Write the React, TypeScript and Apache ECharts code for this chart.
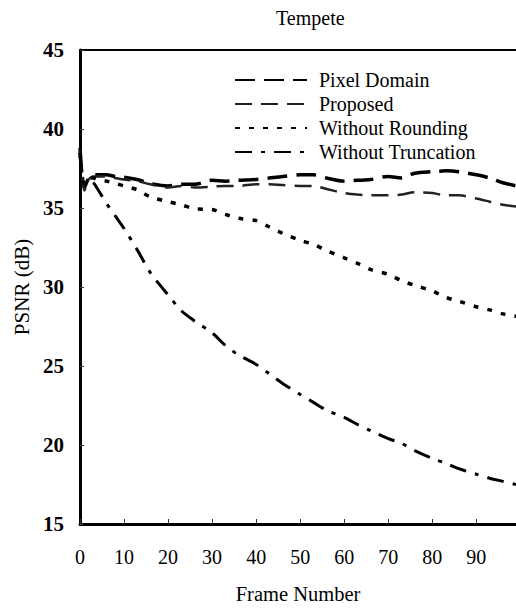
import React, { useEffect, useRef } from "react";
import * as echarts from "echarts";

const frames = [0, 1, 2, 3, 4, 6, 8, 10, 13, 16, 20, 23, 26, 30, 33, 36, 40, 43, 46, 50, 53, 56, 60, 63, 66, 70, 73, 76, 80, 83, 86, 90, 93, 96, 99];

const pixelDomain = [38.8, 36.3, 36.9, 37.1, 37.1, 37.1, 37.0, 36.95, 36.8, 36.55, 36.4, 36.5, 36.5, 36.75, 36.7, 36.75, 36.8, 36.9, 37.0, 37.1, 37.1, 36.9, 36.7, 36.75, 36.8, 37.0, 36.9, 37.2, 37.3, 37.35, 37.3, 37.1, 36.9, 36.6, 36.4];

const proposed = [38.6, 36.1, 36.8, 37.0, 37.0, 37.0, 36.9, 36.8, 36.7, 36.5, 36.3, 36.4, 36.3, 36.35, 36.4, 36.4, 36.5, 36.5, 36.45, 36.4, 36.4, 36.2, 35.95, 35.85, 35.8, 35.8, 35.85, 36.0, 35.95, 35.8, 35.8, 35.6, 35.4, 35.2, 35.1];

const withoutRounding = [38.5, 36.5, 36.9, 36.9, 36.8, 36.7, 36.55, 36.4, 36.15, 35.7, 35.4, 35.2, 34.95, 34.9, 34.6, 34.35, 34.2, 33.8, 33.4, 32.95, 32.7, 32.3, 31.85, 31.5, 31.1, 30.8, 30.4, 30.1, 29.75, 29.35, 29.1, 28.75, 28.55, 28.3, 28.15];

const withoutTruncation = [38.3, 36.5, 36.7, 36.6, 36.2, 35.3, 34.5, 33.7, 32.35, 30.9, 29.5, 28.5, 27.85, 27.1, 26.3, 25.7, 25.1, 24.5, 23.9, 23.2, 22.7, 22.2, 21.75, 21.3, 20.9, 20.4, 20.1, 19.65, 19.15, 18.85, 18.5, 18.15, 17.9, 17.7, 17.5];

const seriesNames = ["Pixel Domain", "Proposed", "Without Rounding", "Without Truncation"];

const FONT = "'Liberation Serif', 'Times New Roman', serif";

const pairs = (vals: number[]) => frames.map((f, i) => [f, vals[i]]);

export default function App() {
  const ref = useRef<HTMLDivElement>(null);
  useEffect(() => {
    if (!ref.current) return;
    const chart = echarts.init(ref.current, undefined, { renderer: "svg" });
    const mk = (name: string, vals: number[], width: number, dash: number[], color: string) => ({
      name,
      type: "line",
      data: pairs(vals),
      showSymbol: false,
      symbol: "none",
      smooth: 0.3,
      lineStyle: { color, width, type: dash, cap: "butt" },
      itemStyle: { color },
      xAxisIndex: 0,
      yAxisIndex: 0,
    });
    chart.setOption({
      animation: false,
      backgroundColor: "#fff",
      textStyle: { fontFamily: FONT },
      title: {
        text: "Tempete",
        left: 271,
        top: 3,
        textStyle: { fontFamily: FONT, fontSize: 20, fontWeight: "normal", color: "#000" },
      },
      legend: {
        orient: "vertical",
        left: 229,
        top: 65,
        itemWidth: 72,
        itemHeight: 14,
        itemGap: 4,
        data: seriesNames,
        itemStyle: { opacity: 0 },
        textStyle: { fontFamily: FONT, fontSize: 20, color: "#000", padding: [0, 0, 0, 7] },
      },
      grid: { left: 80, right: 0, top: 50, bottom: 79, containLabel: false },
      xAxis: [
        {
          type: "value",
          min: 0,
          max: 99,
          interval: 10,
          position: "bottom",
          name: "Frame Number",
          nameLocation: "middle",
          nameGap: 59,
          nameTextStyle: { fontFamily: FONT, fontSize: 20.5, color: "#000" },
          axisLine: { show: true, onZero: false, lineStyle: { color: "#000", width: 3 } },
          axisTick: { show: true, inside: true, length: 5, lineStyle: { color: "#333", width: 1 } },
          axisLabel: {
            showMaxLabel: false,
            margin: 23,
            fontFamily: FONT,
            fontSize: 20,
            color: "#000",
          },
          splitLine: { show: false },
        },
        {
          type: "value",
          min: 0,
          max: 99,
          position: "top",
          axisLine: { show: true, onZero: false, lineStyle: { color: "#000", width: 2 } },
          axisTick: { show: false },
          axisLabel: { show: false },
          splitLine: { show: false },
        },
      ],
      yAxis: {
        type: "value",
        min: 15,
        max: 45,
        interval: 5,
        name: "PSNR (dB)",
        nameLocation: "middle",
        nameGap: 48,
        nameTextStyle: { fontFamily: FONT, fontSize: 21, color: "#000" },
        axisLine: { show: true, onZero: false, lineStyle: { color: "#000", width: 3 } },
        axisTick: { show: true, inside: true, length: 4, lineStyle: { color: "#333", width: 1 } },
        axisLabel: { margin: 16, fontFamily: FONT, fontSize: 21, fontWeight: "bold", color: "#000" },
        splitLine: { show: false },
      },
      series: [
        mk(seriesNames[0], pixelDomain, 3.5, [20, 9], "#000"),
        mk(seriesNames[1], proposed, 2.5, [17, 9], "#222"),
        mk(seriesNames[2], withoutRounding, 3.5, [5, 9], "#000"),
        mk(seriesNames[3], withoutTruncation, 3, [17, 9, 4, 9], "#000"),
      ],
    });
    return () => chart.dispose();
  }, []);
  return (
    <div
      ref={ref}
      style={{ position: "fixed", left: 0, top: 0, width: 516, height: 609, background: "#fff" }}
    />
  );
}
